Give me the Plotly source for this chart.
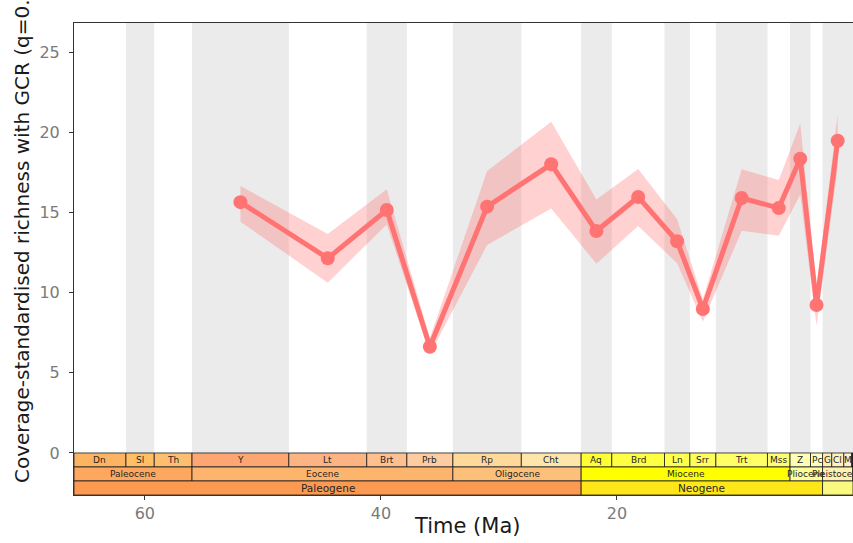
import plotly.graph_objects as go

# ---- Coverage-standardised richness per time bin (Ma) ----
bin_names = ["Ypresian", "Lutetian", "Bartonian", "Priabonian", "Rupelian", "Chattian",
             "Aquitanian", "Burdigalian", "Langhian", "Serravallian", "Tortonian",
             "Messinian", "Zanclean", "Piacenzian", "Pleistocene"]
bin_mid_ma = [51.9, 44.5, 39.5, 35.85, 31.0, 25.57, 21.74, 18.2, 14.9, 12.72, 9.43,
              6.29, 4.47, 3.09, 1.296]
richness = [15.64, 12.14, 15.15, 6.62, 15.36, 18.0, 13.84, 15.96, 13.2, 8.98, 15.9,
            15.27, 18.35, 9.23, 19.47]
richness_hi = [16.65, 13.65, 16.45, 7.15, 17.58, 20.66, 15.8, 17.7, 14.57, 9.58, 17.69,
               17.02, 20.55, 10.3, 21.13]
richness_lo = [14.42, 10.62, 14.25, 6.15, 12.97, 15.25, 11.8, 14.15, 11.83, 8.19, 13.86,
               13.55, 16.1, 7.95, 17.8]

# ---- Alternating background bins (Ma) ----
shade_bounds = [66.0, 61.6, 59.2, 56.0, 47.8, 41.2, 37.8, 33.9, 28.1, 23.03, 20.44,
                15.97, 13.82, 11.62, 7.246, 5.333, 3.6, 2.58, 0.0117, 0.0]

# ---- Geological timescale ----
stage_labels = ["Dn", "Sl", "Th", "Y", "Lt", "Brt", "Prb", "Rp", "Cht", "Aq", "Brd", "Ln",
                "Srr", "Trt", "Mss", "Z", "Pc", "G", "Cl", "M", "", "", "", ""]
stage_bounds = [66.0, 61.6, 59.2, 56.0, 47.8, 41.2, 37.8, 33.9, 28.1, 23.03, 20.44, 15.97,
                13.82, 11.62, 7.246, 5.333, 3.6, 2.58, 1.8, 0.781, 0.126, 0.0117, 0.0082,
                0.0042, 0.0]
stage_colors = ["#FDB462", "#FEBF65", "#FDBF6F", "#FCA773", "#FCB482", "#FDC091", "#FDCDA1",
                "#FED99A", "#FEE6AA", "#FFFF33", "#FFFF41", "#FFFF4D", "#FFFF59", "#FFFF66",
                "#FFFF73", "#FFFFB3", "#FFFFBF", "#FFEDB3", "#FFF2BA", "#FFF2C7", "#FFF2D3",
                "#FEECDB", "#FEEBD2", "#FDEDEC"]
epoch_labels = ["Paleocene", "Eocene", "Oligocene", "Miocene", "Pliocene", "Pleistocene", ""]
epoch_bounds = [66.0, 56.0, 33.9, 23.03, 5.333, 2.58, 0.0117, 0.0]
epoch_colors = ["#FDA75F", "#FDB46C", "#FDC07A", "#FFFF00", "#FFFF99", "#FFF2AE", "#FEF2E0"]
period_labels = ["Paleogene", "Neogene", ""]
period_bounds = [66.0, 23.03, 2.58, 0.0]
period_colors = ["#FD9A52", "#FFE619", "#F9F97F"]

X_RANGE = [66.0, 0.0]
Y_RANGE = [-2.62, 26.81]
LINE_COL = "#FF7373"
FONT = "DejaVu Sans"

fig = go.Figure()

# confidence ribbon
fig.add_trace(go.Scatter(
    x=bin_mid_ma + bin_mid_ma[::-1],
    y=richness_hi + richness_lo[::-1],
    fill="toself", fillcolor="rgba(255,115,115,0.33)",
    line=dict(width=0), mode="lines", hoverinfo="skip", showlegend=False,
))
# richness line + points
fig.add_trace(go.Scatter(
    x=bin_mid_ma, y=richness, mode="lines+markers",
    line=dict(color=LINE_COL, width=5),
    marker=dict(color=LINE_COL, size=14),
    text=bin_names, showlegend=False,
))

shapes = []
annotations = []

# grey bands on every other bin
for i in range(len(shade_bounds) - 1):
    if i % 2 == 1:
        shapes.append(dict(type="rect", xref="x", yref="y",
                           x0=shade_bounds[i], x1=shade_bounds[i + 1],
                           y0=0, y1=Y_RANGE[1], fillcolor="#EBEBEB",
                           line=dict(width=0), layer="below"))

# timescale rows: stages (top), epochs, periods (bottom)
row_h = -Y_RANGE[0] / 3.0
rows = [
    (stage_bounds, stage_labels, stage_colors, 0.0, 9),
    (epoch_bounds, epoch_labels, epoch_colors, -row_h, 9),
    (period_bounds, period_labels, period_colors, -2 * row_h, 10.5),
]
for bounds, labels, colors, top, fsize in rows:
    for i in range(len(labels)):
        shapes.append(dict(type="rect", xref="x", yref="y",
                           x0=bounds[i], x1=bounds[i + 1], y0=top - row_h, y1=top,
                           fillcolor=colors[i], line=dict(color="#1a1a1a", width=0.8),
                           layer="above"))
    for i in range(len(labels)):
        if labels[i]:
            annotations.append(dict(x=(bounds[i] + bounds[i + 1]) / 2, y=top - row_h / 2,
                                    xref="x", yref="y", text=labels[i], showarrow=False,
                                    font=dict(family=FONT, size=fsize, color="#262626"),
                                    xanchor="center", yanchor="middle"))

# axis titles
annotations.append(dict(x=(22 - 74) / 779, y=(495 - 485) / 472, xref="paper", yref="paper",
                        text="Coverage-standardised richness with GCR (q=0.4)",
                        textangle=-90, showarrow=False, xanchor="center", yanchor="bottom",
                        font=dict(family=FONT, size=20, color="#1a1a1a")))
annotations.append(dict(x=(467 - 74) / 779, y=(495 - 526) / 472, xref="paper", yref="paper",
                        text="Time (Ma)", showarrow=False, xanchor="center", yanchor="middle",
                        font=dict(family=FONT, size=21, color="#1a1a1a")))

fig.update_layout(
    width=853, height=543, autosize=False,
    margin=dict(l=74, r=0, t=23, b=48, pad=0),
    paper_bgcolor="white", plot_bgcolor="white",
    shapes=shapes, annotations=annotations,
    font=dict(family=FONT),
)
fig.update_xaxes(range=X_RANGE, tickvals=[60, 40, 20, 0], ticks="outside", ticklen=4,
                 tickcolor="#333333", showgrid=False, zeroline=False,
                 showline=True, mirror=True, linecolor="#333333", linewidth=1,
                 tickfont=dict(family=FONT, size=16, color="#7a7a7a"))
fig.update_yaxes(range=Y_RANGE, tickvals=[0, 5, 10, 15, 20, 25], ticks="outside", ticklen=4,
                 tickcolor="#333333", showgrid=False, zeroline=False,
                 showline=True, linecolor="#333333", linewidth=1, ticklabelstandoff=6,
                 tickfont=dict(family=FONT, size=16, color="#7a7a7a"))

fig.write_html("out.html", config={"displayModeBar": False})
